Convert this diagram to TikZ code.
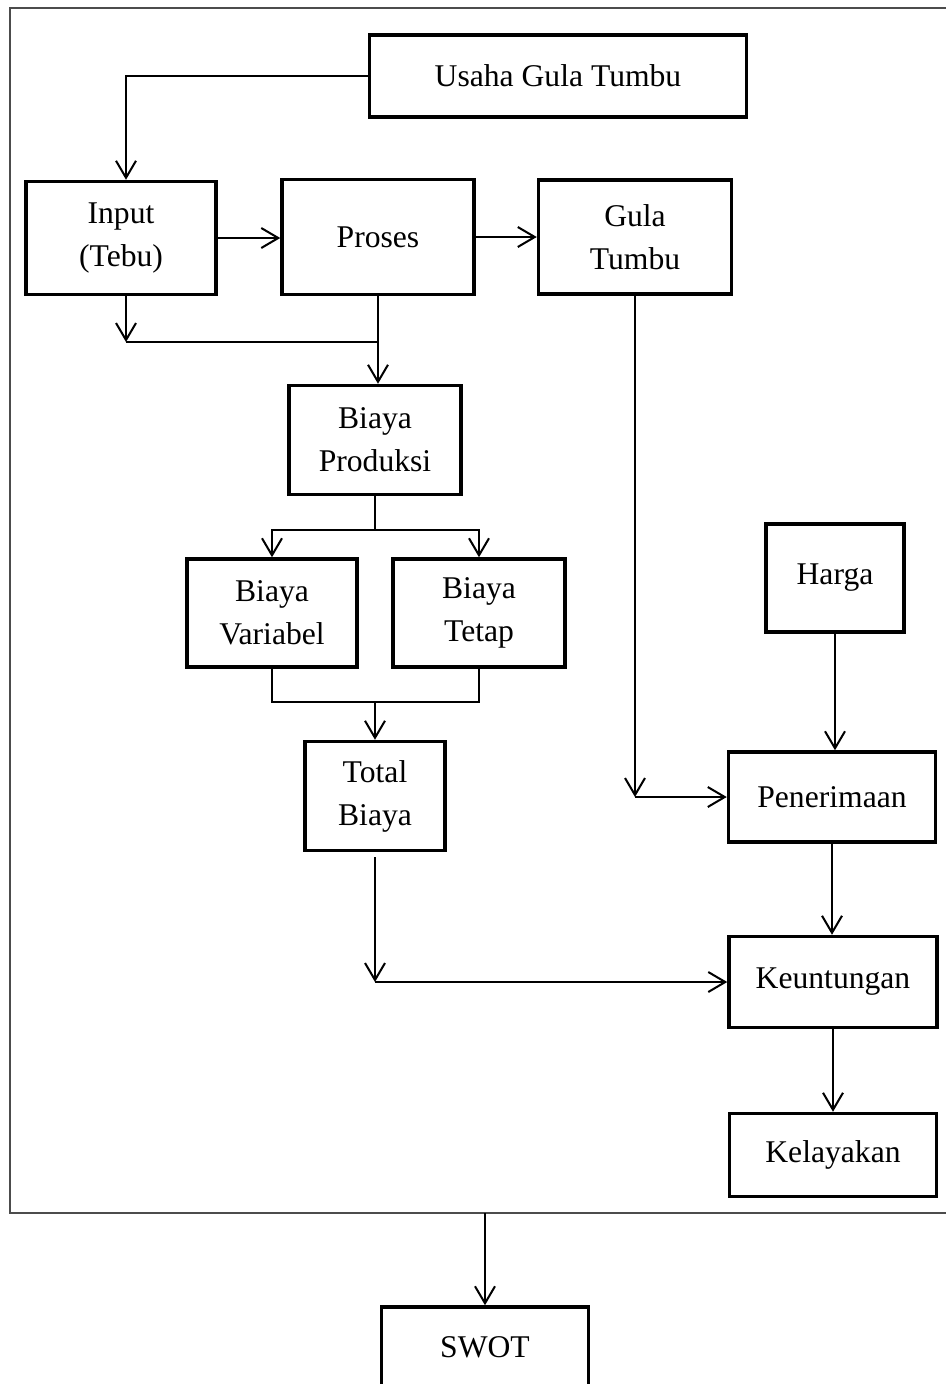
\documentclass[tikz,border=0pt]{standalone}
\usepackage{fontspec}
\setmainfont{Liberation Serif}
\usetikzlibrary{arrows.meta,calc}
\tikzset{
  blok/.style={draw, line width=2pt, align=center, inner sep=0pt, font=\fontsize{18}{24.5}\selectfont},
  garis/.style={line width=1.15pt},
  >={Straight Barb[length=0.34cm,width=0.4cm]}
}
\begin{document}
\begin{tikzpicture}[x=0.02cm,y=-0.02cm]
            \useasboundingbox (0,0) rectangle (946,1384);
            \draw[black!70, line width=0.8pt] (10,8) rectangle (960,1213);
            \node[blok, minimum width=7.54cm, minimum height=1.64cm] (Usaha) at (558,76) {Usaha Gula Tumbu};
            \node[blok, minimum width=3.8cm, minimum height=2.26cm] (Input) at (121,238) {Input\\(Tebu)};
            \node[blok, minimum width=3.84cm, minimum height=2.3cm] (Proses) at (378,237) {Proses};
            \node[blok, minimum width=3.86cm, minimum height=2.28cm] (Gula) at (635,237) {Gula\\Tumbu};
            \node[blok, minimum width=3.44cm, minimum height=2.18cm] (Prod) at (375,440) {Biaya\\Produksi};
            \node[blok, minimum width=3.4cm, minimum height=2.16cm] (Var) at (272,613) {Biaya\\Variabel};
            \node[blok, minimum width=3.44cm, minimum height=2.16cm] (Tetap) at (479,613) {Biaya\\Tetap};
            \node[blok, minimum width=2.8cm, minimum height=2.18cm] (Total) at (375,796) {Total\\Biaya};
            \node[blok, minimum width=2.76cm, minimum height=2.16cm] (Harga) at (835,578) {Harga};
            \node[blok, minimum width=4.14cm, minimum height=1.8cm] (Pen) at (832,797) {Penerimaan};
            \node[blok, minimum width=4.16cm, minimum height=1.82cm] (Keun) at (833,982) {Keuntungan};
            \node[blok, minimum width=4.14cm, minimum height=1.66cm] (Kel) at (833,1155) {Kelayakan};
            \node[blok, minimum width=4.14cm, minimum height=1.6cm] (Swot) at (485,1347) {SWOT};
            \coordinate (J0) at (126,342);
            \coordinate (B0) at (375,530);
            \coordinate (B1) at (375,702);
            \coordinate (B2) at (Total.south |- Keun.west);
            \coordinate (G0) at (Gula.south |- Pen.west);
            \coordinate (F0) at (485,1213);
            \draw[garis,->] (Usaha.west) -| (J0 |- Input.north);
            \draw[garis,->] (Input.east) -- (Input.east -| Proses.west);
            \draw[garis,->] (Proses.east) -- (Proses.east -| Gula.west);
            \draw[garis,->] (J0 |- Input.south) -- (J0);
            \draw[garis] (J0) -- (J0 -| Proses.south);
            \draw[garis,->] (Proses.south) -- (Proses.south |- Prod.north);
            \draw[garis] (Prod.south) -- (B0);
            \draw[garis,->] (B0) -| (Var.north);
            \draw[garis,->] (B0) -| (Tetap.north);
            \draw[garis] (Var.south) |- (B1) -| (Tetap.south);
            \draw[garis,->] (B1) -- (Total.north);
            \draw[garis,->] ([yshift=-0.1cm]Total.south) -- (B2);
            \draw[garis,->] (B2) -- (Keun.west);
            \draw[garis,->] (Gula.south) -- (G0);
            \draw[garis,->] (G0) -- (Pen.west);
            \draw[garis,->] (Harga.south) -- (Harga.south |- Pen.north);
            \draw[garis,->] (Pen.south) -- (Pen.south |- Keun.north);
            \draw[garis,->] (Keun.south) -- (Keun.south |- Kel.north);
            \draw[garis,->] (F0) -- (Swot.north);
        \end{tikzpicture}
\end{document}
